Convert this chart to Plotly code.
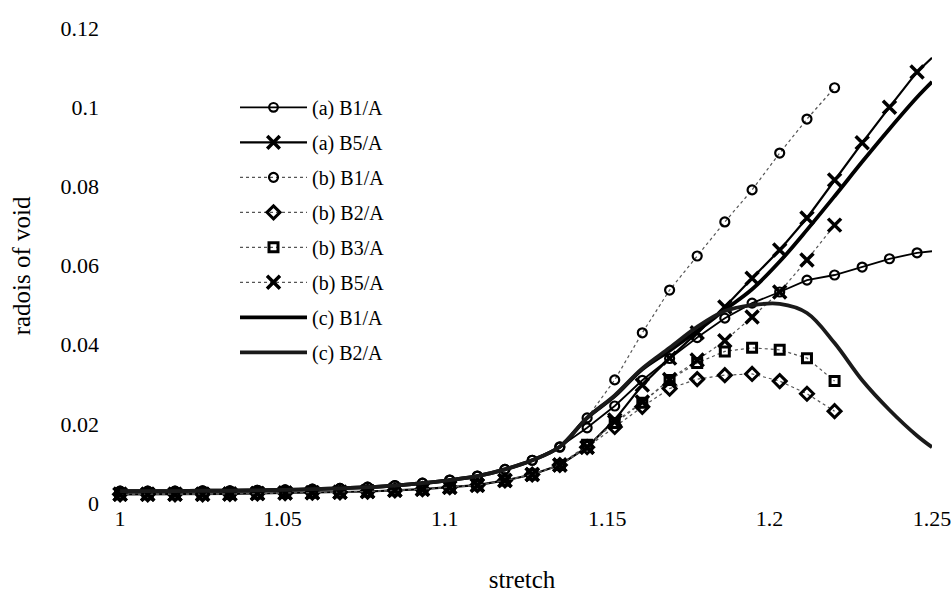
import plotly.graph_objects as go

# stretch values (marker positions; the last entry is the right edge of the plot,
# where the (a) and (c) curves leave the chart)
stretch = [1.0000, 1.0085, 1.0169, 1.0254, 1.0338, 1.0423, 1.0508, 1.0592, 1.0677, 1.0762,
           1.0846, 1.0931, 1.1015, 1.1100, 1.1185, 1.1269, 1.1354, 1.1438, 1.1523, 1.1608,
           1.1692, 1.1777, 1.1862, 1.1946, 1.2031, 1.2115, 1.2200, 1.2285, 1.2369, 1.2454,
           1.2500]

a_B1 = [0.0030, 0.0030, 0.0030, 0.0031, 0.0031, 0.0032, 0.0033, 0.0035, 0.0037, 0.0040,
        0.0044, 0.0050, 0.0058, 0.0068, 0.0085, 0.0108, 0.0142, 0.0190, 0.0245, 0.0310,
        0.0365, 0.0418, 0.0467, 0.0505, 0.0533, 0.0563, 0.0576, 0.0596, 0.0617, 0.0632,
        0.0636]
a_B5 = [0.0022, 0.0022, 0.0022, 0.0022, 0.0023, 0.0024, 0.0025, 0.0026, 0.0027, 0.0029,
        0.0032, 0.0035, 0.0040, 0.0045, 0.0057, 0.0072, 0.0096, 0.0141, 0.0210, 0.0298,
        0.0366, 0.0430, 0.0495, 0.0568, 0.0639, 0.0720, 0.0816, 0.0910, 0.1000, 0.1089,
        0.1125]
b_B1 = [0.0030, 0.0030, 0.0030, 0.0031, 0.0031, 0.0032, 0.0033, 0.0035, 0.0037, 0.0040,
        0.0044, 0.0050, 0.0058, 0.0068, 0.0085, 0.0108, 0.0141, 0.0215, 0.0311, 0.0430,
        0.0538, 0.0624, 0.0710, 0.0791, 0.0884, 0.0970, 0.1049]
b_B2 = [0.0022, 0.0022, 0.0022, 0.0022, 0.0023, 0.0024, 0.0025, 0.0026, 0.0027, 0.0029,
        0.0032, 0.0035, 0.0040, 0.0045, 0.0057, 0.0072, 0.0096, 0.0141, 0.0192, 0.0243,
        0.0289, 0.0313, 0.0323, 0.0326, 0.0308, 0.0276, 0.0232]
b_B3 = [0.0022, 0.0022, 0.0022, 0.0022, 0.0023, 0.0024, 0.0025, 0.0026, 0.0027, 0.0029,
        0.0032, 0.0035, 0.0040, 0.0045, 0.0057, 0.0072, 0.0096, 0.0147, 0.0202, 0.0253,
        0.0311, 0.0354, 0.0383, 0.0392, 0.0387, 0.0366, 0.0308]
b_B5 = [0.0022, 0.0022, 0.0022, 0.0022, 0.0023, 0.0024, 0.0025, 0.0026, 0.0027, 0.0029,
        0.0032, 0.0035, 0.0040, 0.0045, 0.0057, 0.0072, 0.0096, 0.0141, 0.0205, 0.0255,
        0.0312, 0.0361, 0.0410, 0.0470, 0.0533, 0.0614, 0.0702]
c_B1 = [0.0030, 0.0030, 0.0030, 0.0031, 0.0031, 0.0032, 0.0033, 0.0035, 0.0037, 0.0040,
        0.0044, 0.0050, 0.0058, 0.0068, 0.0085, 0.0108, 0.0142, 0.0215, 0.0270, 0.0338,
        0.0385, 0.0435, 0.0488, 0.0540, 0.0610, 0.0690, 0.0775, 0.0862, 0.0945, 0.1025,
        0.1064]
c_B2 = [0.0030, 0.0030, 0.0030, 0.0031, 0.0031, 0.0032, 0.0033, 0.0035, 0.0037, 0.0040,
        0.0044, 0.0050, 0.0058, 0.0068, 0.0085, 0.0108, 0.0142, 0.0215, 0.0272, 0.0340,
        0.0392, 0.0445, 0.0485, 0.0500, 0.0503, 0.0480, 0.0404, 0.0310, 0.0235, 0.0170,
        0.0141]

x_ticks = [1, 1.05, 1.1, 1.15, 1.2, 1.25]
x_tick_text = ["1", "1.05", "1.1", "1.15", "1.2", "1.25"]
y_ticks = [0, 0.02, 0.04, 0.06, 0.08, 0.1, 0.12]
y_tick_text = ["0", "0.02", "0.04", "0.06", "0.08", "0.1", "0.12"]

X_RANGE = [0.9975, 1.25]
FONT = "Liberation Serif, Times New Roman, serif"

fig = go.Figure()


def add(name, ys, symbol=None, msize=9, mlw=1.5, lcolor="black", lw=1.5, dash="solid",
        shape="linear", edge_point=False):
    xs = stretch[:len(ys)]
    mode = "lines+markers" if symbol else "lines"
    tr = dict(x=xs, y=ys, name=name, mode=mode, legendgroup=name,
              line=dict(color=lcolor, width=lw, dash=dash, shape=shape),
              cliponaxis=False)
    if symbol:
        # the edge point only continues the line; it carries no marker
        sizes = [msize] * (len(xs) - 1) + [0 if edge_point else msize]
        tr["marker"] = dict(symbol=symbol, size=sizes, color="black", opacity=1,
                            line=dict(color="black", width=mlw))
    fig.add_trace(go.Scatter(**tr))


add("(a) B1/A", a_B1, symbol="circle-open", msize=9, mlw=2.2, lw=1.8, edge_point=True)
add("(a) B5/A", a_B5, symbol="x-thin-open", msize=13, mlw=3.5, lw=2.2, edge_point=True)
add("(b) B1/A", b_B1, symbol="circle-open", msize=9, mlw=2.2, lcolor="#555", lw=1.2, dash="dot")
add("(b) B2/A", b_B2, symbol="diamond-open", msize=10, mlw=3, lcolor="#555", lw=1.2, dash="dot")
add("(b) B3/A", b_B3, symbol="square-open", msize=9, mlw=3, lcolor="#555", lw=1.2, dash="dot")
add("(b) B5/A", b_B5, symbol="x-thin-open", msize=13, mlw=3.5, lcolor="#555", lw=1.2, dash="dot")
add("(c) B1/A", c_B1, lw=3.8, shape="spline")
add("(c) B2/A", c_B2, lcolor="#1a1a1a", lw=3.8, shape="spline")

fig.update_layout(
    width=952, height=604,
    paper_bgcolor="white", plot_bgcolor="white",
    margin=dict(l=112, r=20, t=28, b=101),
    font=dict(family=FONT, size=20, color="black"),
    showlegend=True,
    legend=dict(x=0.15, y=0.874, xanchor="left", yanchor="top",
                bgcolor="rgba(0,0,0,0)", font=dict(family=FONT, size=20),
                itemwidth=67, tracegroupgap=6, traceorder="grouped"),
    xaxis=dict(range=X_RANGE, tickvals=x_ticks, ticktext=x_tick_text,
               showgrid=False, zeroline=False, showline=False, ticks="",
               ticklabeloverflow="allow", automargin=False,
               tickfont=dict(family=FONT, size=22),
               title=dict(text="stretch", font=dict(family=FONT, size=25), standoff=40)),
    yaxis=dict(range=[0, 0.12], tickvals=y_ticks, ticktext=y_tick_text,
               showgrid=False, zeroline=False, showline=False, ticks="",
               ticklabelstandoff=12, automargin=False,
               tickfont=dict(family=FONT, size=22)),
    annotations=[dict(text="radois of void", textangle=-90, showarrow=False,
                      xref="paper", yref="paper", x=-0.11, y=0.5,
                      xanchor="center", yanchor="middle",
                      font=dict(family=FONT, size=25, color="black"))],
)

# remove the default 8px page margin so the 952x604 figure fills the window exactly
fig.write_html("out.html", config={"displayModeBar": False},
               post_script="document.body.style.margin='0px';document.body.style.overflow='hidden';")
